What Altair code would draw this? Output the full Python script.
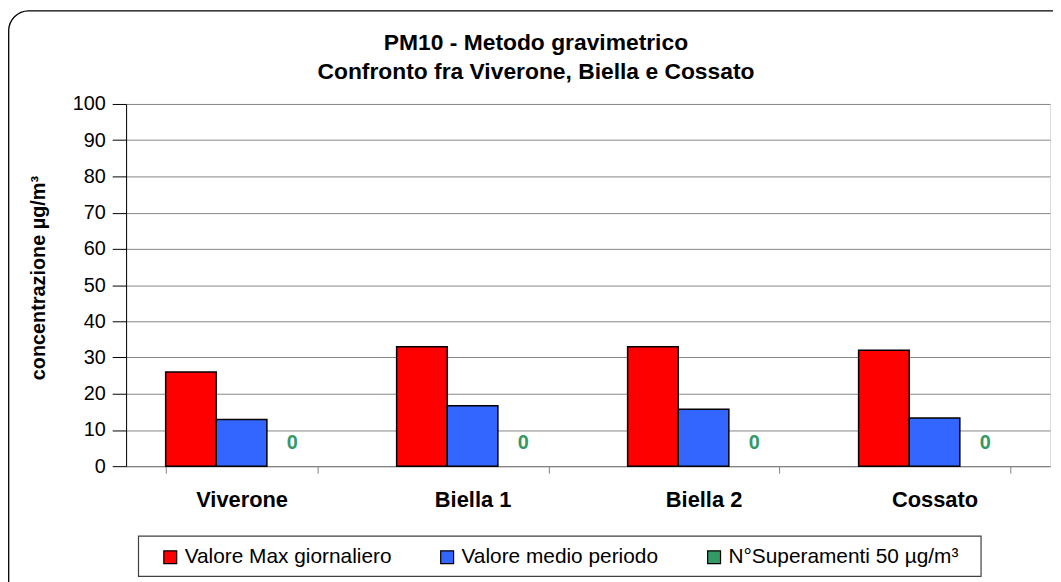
import altair as alt
import pandas as pd

# ---- data ----
categories = ["Viverone", "Biella 1", "Biella 2", "Cossato"]
series_names = ["Valore Max giornaliero", "Valore medio periodo", "N°Superamenti 50 µg/m³"]
max_values = [26, 33, 33, 32]
mean_values = [12.9, 16.7, 15.7, 13.3]
exceed_counts = [0, 0, 0, 0]
series_colors = ["#FF0000", "#3366FF", "#339966"]
title_lines = ["PM10 - Metodo gravimetrico", "Confronto fra Viverone, Biella e Cossato"]
y_title = "concentrazione µg/m³"
y_ticks = list(range(0, 101, 10))

FONT = "Liberation Sans"

rows = []
for i, c in enumerate(categories):
    rows.append({"cat": c, "serie": series_names[0], "valore": max_values[i]})
    rows.append({"cat": c, "serie": series_names[1], "valore": mean_values[i]})
    rows.append({"cat": c, "serie": series_names[2], "valore": exceed_counts[i]})
df = pd.DataFrame(rows)

x_enc = alt.X(
    "cat:N",
    sort=categories,
    scale=alt.Scale(domain=categories, paddingInner=0.3426, paddingOuter=0.1713),
    axis=alt.Axis(
        title=None, labelAngle=0, labelFontSize=22, labelFontWeight="bold",
        labelColor="black", labelFont=FONT, labelPadding=17, tickSize=7,
        tickBand="extent", tickColor="#808080", domainColor="#808080",
        grid=False, labelBaseline="top",
    ),
)
xoff_enc = alt.XOffset(
    "serie:N", scale=alt.Scale(domain=series_names, paddingInner=0, paddingOuter=0)
)
y_enc = alt.Y(
    "valore:Q",
    scale=alt.Scale(domain=[0, 100], nice=False),
    axis=alt.Axis(
        title=y_title, values=y_ticks, labelFontSize=20, labelColor="black",
        labelFont=FONT, labelPadding=7, tickSize=14, tickColor="black",
        domainColor="black", gridColor="#868686", gridWidth=1,
        titleFontSize=20, titleFontWeight="bold", titleFont=FONT,
        titleColor="black", titleX=-88, titleY=175, titleAngle=-90,
        titleAlign="center", titleBaseline="middle",
    ),
)
color_enc = alt.Color(
    "serie:N",
    scale=alt.Scale(domain=series_names, range=series_colors),
    legend=alt.Legend(
        orient="none", legendX=34, legendY=446, direction="horizontal",
        title=None, symbolType="square", symbolSize=169,
        symbolStrokeColor="black", symbolStrokeWidth=1.2,
        labelFontSize=21, labelFont=FONT, labelColor="black",
        labelOffset=4, columnPadding=45, labelLimit=500, padding=0,
    ),
)

base = alt.Chart(df)

bars = base.transform_filter(
    alt.datum.serie != series_names[2]
).mark_bar(stroke="black", strokeWidth=1.5).encode(
    x=x_enc, xOffset=xoff_enc, y=y_enc, color=color_enc
)

zero_labels = base.transform_filter(
    alt.datum.serie == series_names[2]
).mark_text(
    fontSize=20, fontWeight="bold", font=FONT, color="#339966", dy=-23
).encode(x=x_enc, xOffset=xoff_enc, y=y_enc, text="valore:Q")

deco = pd.DataFrame({"k": [0]})
outer_border = alt.Chart(deco).mark_rect(
    fillOpacity=0, stroke="black", strokeWidth=1.3, cornerRadius=20
).encode(
    x=alt.value(-118.3), x2=alt.value(960), y=alt.value(-93.8), y2=alt.value(520)
)
legend_box = alt.Chart(deco).mark_rect(
    fillOpacity=0, stroke="#404040", strokeWidth=1.2
).encode(
    x=alt.value(12.5), x2=alt.value(861.5), y=alt.value(435.5), y2=alt.value(476)
)
title1 = alt.Chart(deco).mark_text(
    fontSize=23, fontWeight="bold", font=FONT, color="black",
    align="center", baseline="alphabetic"
).encode(x=alt.value(413), y=alt.value(-54.5), text=alt.value(title_lines[0]))
title2 = alt.Chart(deco).mark_text(
    fontSize=23, fontWeight="bold", font=FONT, color="black",
    align="center", baseline="alphabetic"
).encode(x=alt.value(413), y=alt.value(-25.5), text=alt.value(title_lines[1]))

chart = alt.layer(
    outer_border, legend_box, bars, zero_labels, title1, title2
).properties(
    width=931, height=365,
    autosize=alt.AutoSizeParams(type="none"),
    padding={"left": 119, "top": 94.5, "right": 3, "bottom": 114.5},
    background="white",
).configure_view(stroke=None).configure(font=FONT)

chart.save("out.html", embed_options={"renderer": "svg", "actions": False})
